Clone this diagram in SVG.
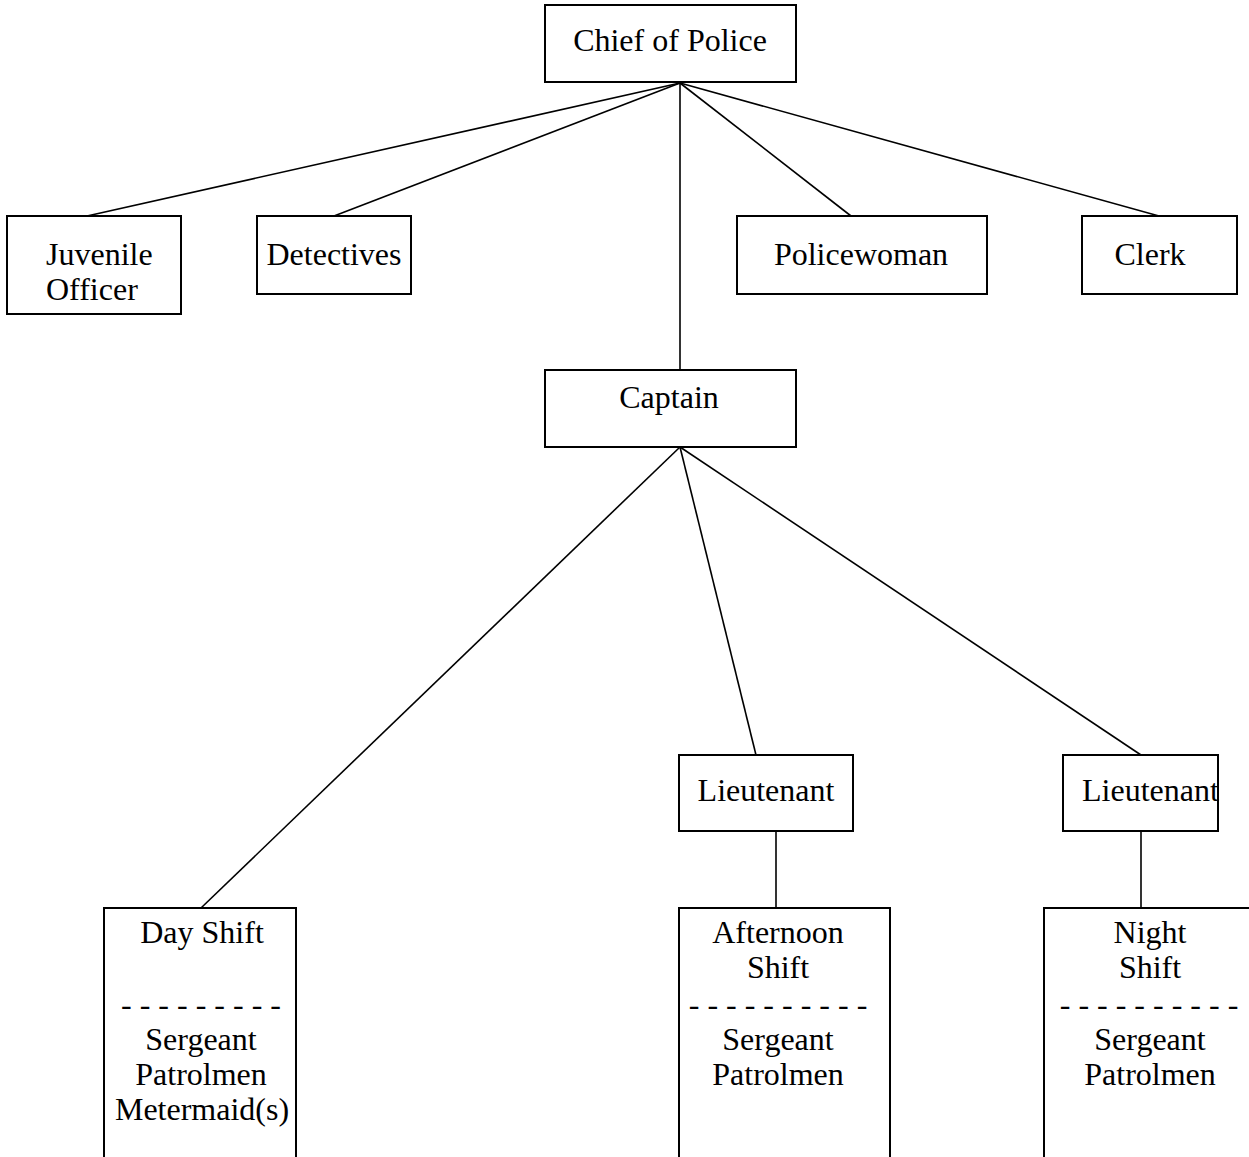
<svg xmlns="http://www.w3.org/2000/svg" width="1249" height="1157" viewBox="0 0 1249 1157">
<style>
.box{fill:#fff;stroke:#000;stroke-width:2}
.ln{stroke:#000;stroke-width:1.6;fill:none}
text{font-family:"Liberation Serif","Times New Roman",serif;font-size:32px;fill:#000}
.c{text-anchor:middle}
</style>
<rect width="1249" height="1157" fill="#fff"/>
<g id="connectors">
<line class="ln" x1="680" y1="83" x2="87" y2="216"/>
<line class="ln" x1="680" y1="83" x2="334" y2="216"/>
<line class="ln" x1="680" y1="83" x2="680" y2="370"/>
<line class="ln" x1="680" y1="83" x2="851" y2="216"/>
<line class="ln" x1="680" y1="83" x2="1159" y2="216"/>
<line class="ln" x1="680" y1="447" x2="201" y2="908"/>
<line class="ln" x1="680" y1="447" x2="756" y2="755"/>
<line class="ln" x1="680" y1="447" x2="1141" y2="755"/>
<line class="ln" x1="776" y1="831" x2="776" y2="908"/>
<line class="ln" x1="1141" y1="831" x2="1141" y2="908"/>
</g>
<g id="chief">
<rect class="box" x="545" y="5" width="251" height="77"/>
<text class="c" x="670" y="51">Chief of Police</text>
</g>
<g id="juvenile">
<rect class="box" x="7" y="216" width="174" height="98"/>
<text x="46" y="265">Juvenile</text>
<text x="46" y="300">Officer</text>
</g>
<g id="detectives">
<rect class="box" x="257" y="216" width="154" height="78"/>
<text class="c" x="334" y="265">Detectives</text>
</g>
<g id="policewoman">
<rect class="box" x="737" y="216" width="250" height="78"/>
<text class="c" x="861" y="265">Policewoman</text>
</g>
<g id="clerk">
<rect class="box" x="1082" y="216" width="155" height="78"/>
<text class="c" x="1150" y="265">Clerk</text>
</g>
<g id="captain">
<rect class="box" x="545" y="370" width="251" height="77"/>
<text class="c" x="669" y="408">Captain</text>
</g>
<g id="lieutenant1">
<rect class="box" x="679" y="755" width="174" height="76"/>
<text class="c" x="766" y="801">Lieutenant</text>
</g>
<g id="lieutenant2">
<rect class="box" x="1063" y="755" width="155" height="76"/>
<text x="1082" y="801">Lieutenant</text>
</g>
<g id="dayshift">
<rect class="box" x="104" y="908" width="192" height="270"/>
<text class="c" x="202" y="943">Day Shift</text>
<text class="c" x="201" y="1015">- - - - - - - - -</text>
<text class="c" x="201" y="1050">Sergeant</text>
<text class="c" x="201" y="1085">Patrolmen</text>
<text class="c" x="202" y="1120">Metermaid(s)</text>
</g>
<g id="afternoonshift">
<rect class="box" x="679" y="908" width="211" height="270"/>
<text class="c" x="778" y="943">Afternoon</text>
<text class="c" x="778" y="978">Shift</text>
<text class="c" x="778" y="1015">- - - - - - - - - -</text>
<text class="c" x="778" y="1050">Sergeant</text>
<text class="c" x="778" y="1085">Patrolmen</text>
</g>
<g id="nightshift">
<rect class="box" x="1044" y="908" width="220" height="270"/>
<text class="c" x="1150" y="943">Night</text>
<text class="c" x="1150" y="978">Shift</text>
<text class="c" x="1149" y="1015">- - - - - - - - - -</text>
<text class="c" x="1150" y="1050">Sergeant</text>
<text class="c" x="1150" y="1085">Patrolmen</text>
</g>
</svg>
